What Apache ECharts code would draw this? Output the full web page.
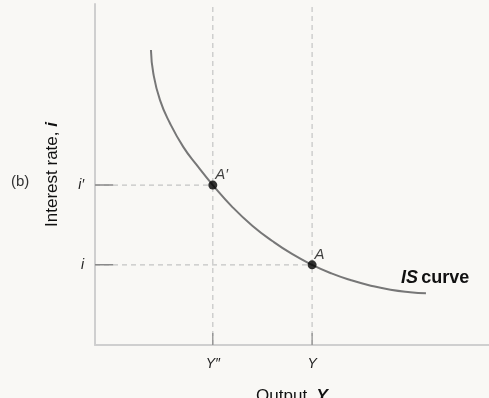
<!DOCTYPE html>
<html>
<head>
<meta charset="utf-8">
<script src="https://cdn.jsdelivr.net/npm/echarts@6/dist/echarts.min.js"></script>
<style>
html,body{margin:0;padding:0;background:#f9f8f5;}
#c{width:489px;height:398px;}
</style>
</head>
<body>
<div id="c"></div>
<script>
// IS curve (output, interest rate) in arbitrary units 0..100
const isCurveX = [14.2, 14.8, 16.5, 19.0, 22.4, 25.8, 29.9, 35.0, 40.0, 45.0, 50.0, 55.1, 60.0, 65.0, 70.0, 75.0, 80.0, 84.0];
const isCurveY = [86.5, 79.7, 71.8, 65.1, 58.1, 52.8, 46.9, 40.3, 34.9, 30.5, 26.7, 23.5, 21.0, 19.0, 17.4, 16.2, 15.5, 15.2];
const pointNames = ["A′", "A"];
const pointX = [29.9, 55.1];
const pointY = [46.9, 23.5];
const xTickLabels = ["Y″", "Y"];
const yTickLabels = ["i′", "i"];

const chart = echarts.init(document.getElementById('c'), null, {renderer: 'canvas'});
const curve = isCurveX.map((x, k) => [x, isCurveY[k]]);
const dashColor = '#c4c4c4';
const solidTick = '#8a8a8a';
const FONT = 'Liberation Sans';

const series = [];
pointX.forEach((x, k) => {
  series.push({type: 'line', data: [[x, 0], [x, 100]], symbol: 'none', silent: true,
    lineStyle: {color: dashColor, width: 1.2, type: [5, 4]}, z: 1});
  series.push({type: 'line', data: [[0, pointY[k]], [x, pointY[k]]], symbol: 'none', silent: true,
    lineStyle: {color: dashColor, width: 1.2, type: [5, 4]}, z: 1});
  series.push({type: 'line', data: [[x, 0], [x, 3.5]], symbol: 'none', silent: true,
    lineStyle: {color: solidTick, width: 1.2}, z: 2});
  series.push({type: 'line', data: [[0, pointY[k]], [4.6, pointY[k]]], symbol: 'none', silent: true,
    lineStyle: {color: solidTick, width: 1.5}, z: 2});
});
series.push({type: 'line', data: curve, smooth: 0.5, symbol: 'none', silent: true,
  lineStyle: {color: '#777777', width: 2}, z: 3,
  endLabel: {show: true, formatter: '{a|IS} {b|curve}', offset: [-33, -15],
    rich: {a: {fontFamily: FONT, fontSize: 18, fontWeight: 'bold', fontStyle: 'italic', color: '#111'},
           b: {fontFamily: FONT, fontSize: 18, fontWeight: 'bold', color: '#111'}}}});
series.push({type: 'scatter', data: pointX.map((x, k) => ({value: [x, pointY[k]], name: pointNames[k]})),
  symbolSize: 9, itemStyle: {color: '#000'}, z: 5,
  label: {show: true, position: [7, -13], formatter: p => p.name,
    fontFamily: FONT, fontStyle: 'italic', fontSize: 15, color: '#111'}});

const fmtX = v => { const k = pointX.indexOf(v); return k >= 0 ? xTickLabels[k] : ''; };
const fmtY = v => { const k = pointY.indexOf(v); return k >= 0 ? yTickLabels[k] : ''; };

chart.setOption({
  animation: false,
  backgroundColor: '#f9f8f5',
  grid: {left: 95, right: 0, top: 4, bottom: 53, outerBoundsMode: 'none', containLabel: false},
  xAxis: {type: 'value', min: 0, max: 100,
    axisLine: {show: true, lineStyle: {color: '#cfcfcf', width: 2}},
    axisTick: {show: false}, splitLine: {show: false},
    axisLabel: {customValues: pointX, formatter: fmtX, margin: 12, fontFamily: FONT,
      fontStyle: 'italic', fontSize: 14, color: '#222'},
    name: '{n|Output, }{v|Y}', nameLocation: 'middle', nameGap: 43,
    nameTextStyle: {rich: {n: {fontFamily: FONT, fontSize: 17, color: '#111'},
      v: {fontFamily: FONT, fontSize: 17, fontStyle: 'italic', fontWeight: 'bold', color: '#111'}}}},
  yAxis: {type: 'value', min: 0, max: 100,
    axisLine: {show: true, lineStyle: {color: '#cfcfcf', width: 2}},
    axisTick: {show: false}, splitLine: {show: false},
    axisLabel: {customValues: pointY, formatter: fmtY, margin: 11, fontFamily: FONT,
      fontStyle: 'italic', fontSize: 14, color: '#222'},
    name: '{n|Interest rate, }{v|i}', nameLocation: 'middle', nameGap: 34,
    nameTextStyle: {rich: {n: {fontFamily: FONT, fontSize: 17, color: '#111'},
      v: {fontFamily: FONT, fontSize: 17, fontStyle: 'italic', fontWeight: 'bold', color: '#111'}}}},
  graphic: [{type: 'text', left: 11, top: 174,
    style: {text: '(b)', fontFamily: FONT, fontSize: 15, fill: '#333'}}],
  series: series
});
</script>
</body>
</html>
